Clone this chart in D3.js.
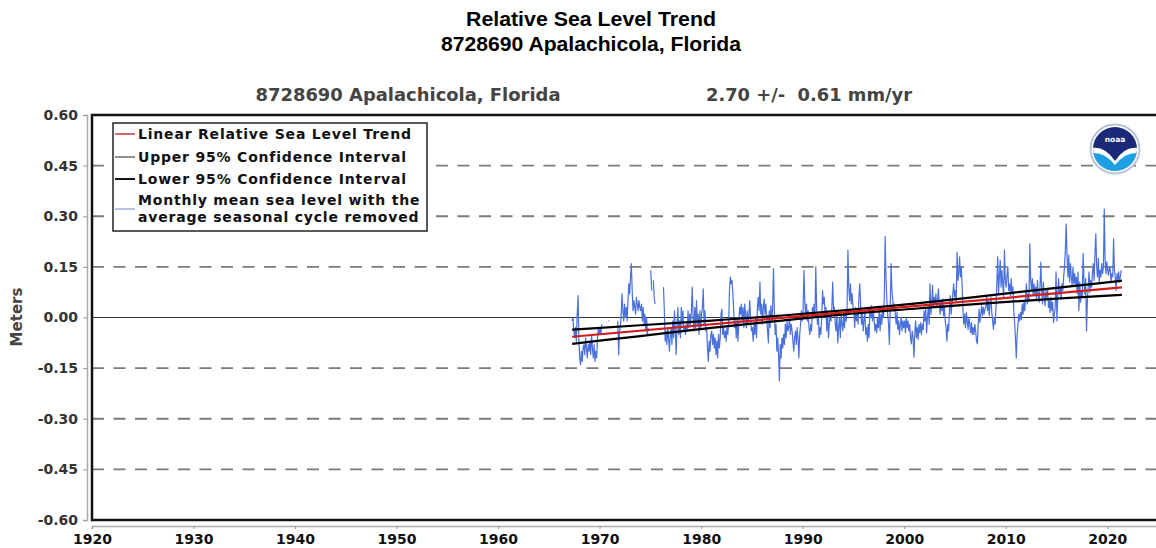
<!DOCTYPE html>
<html><head><meta charset="utf-8">
<script src="https://cdn.jsdelivr.net/npm/d3@7"></script>
<style>body{margin:0;background:#fff}svg{display:block}</style>
</head><body>
<svg id="chart" width="1156" height="548"></svg>
<script>
// ---------- DATA ----------
const titleLines = ["Relative Sea Level Trend", "8728690 Apalachicola, Florida"];
const stationLabel = "8728690 Apalachicola, Florida";
const trendLabel = "2.70 +/-  0.61 mm/yr";
const yLabel = "Meters";
const yTicks = [-0.60, -0.45, -0.30, -0.15, 0.00, 0.15, 0.30, 0.45, 0.60];
const xTicks = [1920, 1930, 1940, 1950, 1960, 1970, 1980, 1990, 2000, 2010, 2020];
const legendItems = ["Linear Relative Sea Level Trend", "Upper 95% Confidence Interval",
  "Lower 95% Confidence Interval", "Monthly mean sea level with the", "average seasonal cycle removed"];

// monthly mean sea level (m), Jan..Dec per year, starting 1967
const dataStartYear = 1967;
const monthlyMSL = [
/*1967*/ null,null,null,-0.01,0.00,-0.04,-0.06,-0.03,-0.07,0.01,0.065,-0.07,
/*1968*/ -0.12,-0.14,-0.10,-0.13,-0.09,-0.08,-0.11,-0.06,-0.09,-0.12,-0.08,-0.10,
/*1969*/ -0.07,-0.11,-0.05,-0.09,-0.12,-0.08,-0.13,-0.10,-0.12,-0.06,-0.03,-0.05,
/*1970*/ -0.03,-0.05,-0.02,null,null,null,null,null,null,null,-0.01,-0.01,
/*1971*/ null,null,null,null,null,null,null,null,null,-0.01,-0.11,-0.04,
/*1972*/ -0.03,0.01,0.07,0.02,-0.01,0.04,0.00,0.03,-0.01,0.05,0.10,0.07,
/*1973*/ 0.12,0.16,0.08,0.02,0.05,0.03,0.01,0.06,0.04,0.02,0.05,0.03,
/*1974*/ 0.02,0.04,-0.01,0.03,-0.02,0.01,-0.04,0.00,-0.05,-0.03,null,null,
/*1975*/ 0.14,0.08,null,0.11,0.06,0.04,null,null,null,null,null,null,
/*1976*/ null,null,null,0.09,0.02,-0.07,-0.04,-0.08,-0.03,-0.06,-0.10,-0.05,
/*1977*/ -0.03,-0.08,-0.01,-0.06,0.02,-0.04,-0.11,-0.02,0.03,-0.05,-0.01,-0.06,
/*1978*/ 0.03,-0.02,0.02,-0.04,-0.03,-0.05,-0.02,-0.04,0.02,-0.03,0.01,-0.02,
/*1979*/ 0.02,0.09,0.00,-0.04,0.03,-0.03,0.05,-0.02,0.01,-0.05,0.02,-0.03,
/*1980*/ 0.01,0.03,0.085,-0.02,0.02,-0.04,-0.03,-0.09,-0.13,-0.07,-0.10,-0.05,
/*1981*/ -0.04,-0.08,-0.05,-0.09,-0.06,-0.11,-0.07,-0.12,-0.05,-0.09,-0.06,0.01,
/*1982*/ 0.025,-0.05,-0.03,-0.06,-0.04,-0.07,-0.03,-0.05,-0.02,0.08,0.12,0.10,
/*1983*/ 0.11,0.07,0.02,-0.03,-0.01,-0.06,0.00,-0.07,-0.02,0.03,0.01,0.04,
/*1984*/ -0.01,0.03,-0.03,0.04,0.01,-0.03,0.02,-0.02,0.01,0.05,-0.01,-0.04,
/*1985*/ -0.03,-0.07,-0.02,-0.05,0.00,-0.06,0.03,0.06,0.02,0.105,0.01,0.04,
/*1986*/ -0.02,0.03,0.055,0.01,0.04,0.00,-0.04,-0.075,0.02,-0.03,0.035,-0.01,
/*1987*/ 0.03,0.145,0.02,-0.05,-0.02,-0.10,-0.06,-0.11,-0.187,-0.08,-0.12,-0.06,
/*1988*/ -0.09,-0.05,-0.08,-0.02,-0.06,-0.01,-0.04,-0.03,0.00,-0.05,-0.02,-0.04,
/*1989*/ -0.07,-0.10,-0.06,-0.04,-0.08,-0.03,-0.06,-0.12,-0.05,-0.02,0.02,-0.01,
/*1990*/ 0.02,0.14,0.05,0.00,0.04,-0.01,0.02,-0.03,-0.05,-0.02,-0.04,0.03,
/*1991*/ 0.01,0.04,0.00,0.15,0.03,-0.02,0.01,-0.06,-0.03,-0.05,0.00,0.08,
/*1992*/ 0.04,0.06,0.01,0.03,-0.04,0.02,-0.06,-0.02,0.01,-0.01,0.03,0.105,
/*1993*/ 0.02,0.03,-0.02,-0.04,0.01,-0.075,-0.03,0.00,-0.06,0.01,-0.02,-0.04,
/*1994*/ 0.01,-0.03,0.02,-0.01,0.03,0.20,0.09,0.05,0.10,0.04,0.07,0.03,
/*1995*/ 0.02,-0.03,0.03,-0.01,0.01,-0.02,0.06,0.10,0.04,-0.02,0.01,-0.04,
/*1996*/ -0.01,0.02,-0.05,-0.03,-0.07,-0.02,-0.06,0.03,0.00,0.035,-0.01,0.02,
/*1997*/ -0.01,-0.04,-0.02,-0.045,0.00,-0.03,0.02,-0.04,0.01,-0.02,0.025,0.00,
/*1998*/ 0.06,0.24,0.12,0.05,0.01,-0.02,-0.08,0.03,0.16,0.08,0.05,0.03,
/*1999*/ 0.04,0.01,-0.02,0.015,-0.035,-0.01,-0.05,-0.02,0.00,-0.04,-0.01,-0.03,
/*2000*/ -0.01,-0.045,0.00,-0.03,-0.01,-0.04,-0.02,-0.06,-0.078,-0.04,-0.06,-0.118,
/*2001*/ -0.05,-0.01,-0.06,-0.03,-0.065,-0.02,-0.045,-0.015,-0.05,-0.02,-0.035,0.02,
/*2002*/ -0.01,0.025,-0.045,0.00,0.03,-0.02,0.10,0.01,0.035,0.095,0.03,0.06,
/*2003*/ 0.04,0.07,0.03,0.05,0.085,0.04,0.01,0.05,0.02,0.055,0.005,0.03,
/*2004*/ -0.01,-0.03,-0.07,-0.02,-0.04,0.02,0.065,0.01,0.04,0.07,0.10,0.06,
/*2005*/ 0.08,0.05,0.194,0.11,0.13,0.18,0.12,0.15,0.09,0.02,-0.02,0.01,
/*2006*/ -0.03,0.015,-0.01,-0.035,0.00,-0.02,-0.045,-0.015,-0.05,-0.03,-0.05,-0.02,
/*2007*/ -0.04,-0.07,-0.078,-0.02,0.025,-0.015,0.01,0.035,0.005,0.03,0.01,0.025,
/*2008*/ 0.03,0.065,0.02,0.05,0.005,0.04,0.06,0.015,-0.01,-0.035,0.00,-0.02,
/*2009*/ 0.03,0.10,0.18,0.07,0.12,0.17,0.09,0.14,0.10,0.06,0.20,0.11,
/*2010*/ 0.09,0.125,0.15,0.08,0.10,0.065,0.115,0.07,0.09,0.02,-0.015,-0.06,
/*2011*/ -0.12,-0.05,-0.02,0.01,-0.01,0.015,-0.005,0.04,0.01,0.045,0.02,0.06,
/*2012*/ 0.10,0.04,0.07,0.05,0.218,0.11,0.08,0.115,0.065,0.10,0.07,0.09,
/*2013*/ 0.05,0.11,0.07,0.045,0.09,0.164,0.08,0.04,0.105,0.06,0.035,0.08,
/*2014*/ 0.06,0.085,0.03,0.05,0.015,0.06,0.02,0.045,-0.015,0.01,0.03,0.135,
/*2015*/ -0.01,0.06,0.115,0.07,0.09,0.055,0.10,0.08,0.12,0.15,0.20,0.277,
/*2016*/ 0.18,0.12,0.185,0.105,0.16,0.12,0.095,0.15,0.10,0.13,0.095,0.12,
/*2017*/ 0.07,0.135,0.02,0.105,0.045,0.08,0.06,0.19,0.11,0.07,0.115,-0.04,
/*2018*/ 0.05,0.09,0.135,0.075,0.11,0.09,0.13,0.16,0.11,0.19,0.248,0.15,
/*2019*/ 0.12,0.175,0.105,0.14,0.12,0.16,0.13,0.15,0.322,0.17,0.13,0.165,
/*2020*/ 0.14,0.125,0.15,0.145,0.105,0.13,0.12,0.233,0.14,0.12,0.08,0.13,
/*2021*/ 0.11,0.135,0.105,0.12,0.14
];

// linear trend (m) at its end points
const trendYears = [1967.29, 2021.44];
const trendValues = [-0.057, 0.089];
// 95% confidence interval curves (m)
const ciYears = [1967.29, 1974, 1981, 1988, 1994.3, 2001, 2008, 2015, 2021.44];
const ciUpper = [-0.036, -0.023, -0.009, 0.006, 0.022, 0.041, 0.064, 0.088, 0.109];
const ciLower = [-0.078, -0.055, -0.031, -0.009, 0.010, 0.026, 0.042, 0.056, 0.067];

// ---------- CHART ----------
const svg = d3.select("#chart");
const W = 1156, H = 548;
const pL = 92, pT = 115, pB = 520, pR = 1158;
const x = d3.scaleLinear().domain([1920, 2025]).range([pL, pR]);
const y = d3.scaleLinear().domain([-0.6, 0.6]).range([pB, pT]);

svg.append("rect").attr("width", W).attr("height", H).attr("fill", "#fff");

// titles
const titleFont = "'Liberation Sans Narrow','Liberation Sans',Arial,sans-serif";
svg.append("text").attr("x", 591).attr("y", 26).attr("text-anchor", "middle")
  .attr("font-family", titleFont).attr("font-weight", "bold").attr("font-size", 21)
  .attr("textLength", 250).attr("lengthAdjust", "spacingAndGlyphs").text(titleLines[0]);
svg.append("text").attr("x", 591).attr("y", 51).attr("text-anchor", "middle")
  .attr("font-family", titleFont).attr("font-weight", "bold").attr("font-size", 21)
  .attr("textLength", 300).attr("lengthAdjust", "spacingAndGlyphs").text(titleLines[1]);

const subFont = "'DejaVu Sans',Verdana,sans-serif";
svg.append("text").attr("x", 408).attr("y", 101).attr("text-anchor", "middle")
  .attr("font-family", subFont).attr("font-weight", "bold").attr("font-size", 17).attr("fill", "#444")
  .attr("textLength", 305).attr("lengthAdjust", "spacingAndGlyphs").text(stationLabel);
svg.append("text").attr("x", 809).attr("y", 101).attr("text-anchor", "middle")
  .attr("font-family", subFont).attr("font-weight", "bold").attr("font-size", 17).attr("fill", "#444")
  .style("white-space", "pre")
  .attr("textLength", 206).attr("lengthAdjust", "spacingAndGlyphs").text(trendLabel);

// y label
svg.append("text").attr("transform", "translate(22,317) rotate(-90)").attr("text-anchor", "middle")
  .attr("font-family", subFont).attr("font-weight", "bold").attr("font-size", 15).attr("fill", "#444")
  .text(yLabel);

// grid lines
const plot = svg.append("g");
plot.selectAll("line.grid").data(yTicks.filter(v => Math.abs(v) > 0.01 && Math.abs(v) < 0.59))
  .join("line").attr("class", "grid")
  .attr("x1", pL).attr("x2", W).attr("y1", d => y(d)).attr("y2", d => y(d))
  .attr("stroke", "#7a7a7a").attr("stroke-width", 1.8).attr("stroke-dasharray", "12,9.5");
plot.append("line").attr("x1", pL).attr("x2", W).attr("y1", y(0)).attr("y2", y(0))
  .attr("stroke", "#333").attr("stroke-width", 1);

// monthly data
const series = monthlyMSL.map((v, i) => ({
  t: dataStartYear + Math.floor(i / 12) + ((i % 12) + 0.5) / 12, v }));
const line = d3.line().defined(d => d.v !== null).x(d => x(d.t)).y(d => y(d.v));
plot.append("path").datum(series).attr("d", line).attr("fill", "none")
  .attr("stroke", "#4a70dc").attr("stroke-width", 1.2).attr("stroke-linejoin", "round");

// CI + trend
const ciLine = d3.line().curve(d3.curveMonotoneX).x(d => x(d[0])).y(d => y(d[1]));
plot.append("path").attr("d", ciLine(ciYears.map((t, i) => [t, ciUpper[i]])))
  .attr("fill", "none").attr("stroke", "#000").attr("stroke-width", 2.2);
plot.append("path").attr("d", ciLine(ciYears.map((t, i) => [t, ciLower[i]])))
  .attr("fill", "none").attr("stroke", "#000").attr("stroke-width", 2.2);
plot.append("path").attr("d", d3.line().x(d => x(d[0])).y(d => y(d[1]))(trendYears.map((t, i) => [t, trendValues[i]])))
  .attr("fill", "none").attr("stroke", "#d41c1c").attr("stroke-width", 2.2);

// plot border
svg.append("rect").attr("x", pL).attr("y", pT).attr("width", pR - pL + 10).attr("height", pB - pT)
  .attr("fill", "none").attr("stroke", "#111").attr("stroke-width", 2.5);

// axes
const tickFont = "'DejaVu Sans',Verdana,sans-serif";
const yAxis = svg.append("g").attr("transform", "translate(87,0)")
  .call(d3.axisLeft(y).tickValues(yTicks).tickSize(4).tickPadding(5).tickFormat(d => d.toFixed(2)));
const xAxis = svg.append("g").attr("transform", "translate(0,526)")
  .call(d3.axisBottom(x).tickValues(xTicks).tickSize(3).tickPadding(5).tickFormat(d3.format("d")));
[yAxis, xAxis].forEach(a => {
  a.select(".domain").attr("stroke", "#aaa").attr("stroke-width", 1.5);
  a.selectAll(".tick line").attr("stroke", "#999");
  a.selectAll("text").attr("font-family", tickFont).attr("font-weight", "bold").attr("font-size", 14);
});
yAxis.selectAll("text").attr("fill", "#333");
xAxis.selectAll("text").attr("fill", "#111");

// legend
const lg = svg.append("g");
lg.append("rect").attr("x", 113).attr("y", 123).attr("width", 314).attr("height", 108)
  .attr("fill", "#fff").attr("stroke", "#222").attr("stroke-width", 1.5);
const rowsY = [134, 157, 179, 200, 217];
const sw = [
  {y: 134, c: "#c0393b", w: 1.5},
  {y: 157, c: "#222", w: 1},
  {y: 179, c: "#111", w: 2},
  {y: 209, c: "#9aaedb", w: 1.5}];
lg.selectAll("line.sw").data(sw).join("line").attr("class", "sw")
  .attr("x1", 115).attr("x2", 135).attr("y1", d => d.y).attr("y2", d => d.y)
  .attr("stroke", d => d.c).attr("stroke-width", d => d.w);
lg.selectAll("text").data(legendItems).join("text")
  .attr("x", 138).attr("y", (d, i) => rowsY[i]).attr("dy", "0.36em")
  .attr("font-family", tickFont).attr("font-weight", "bold").attr("font-size", 14)
  .attr("letter-spacing", 0.8).attr("fill", "#111")
  .text(d => d);

// NOAA logo
const logo = svg.append("g").attr("transform", "translate(1115,149)");
logo.append("clipPath").attr("id", "lc").append("circle").attr("r", 22);
logo.append("circle").attr("r", 24.5).attr("fill", "#fff").attr("stroke", "#b8c4dc").attr("stroke-width", 2);
const inner = logo.append("g").attr("clip-path", "url(#lc)");
inner.append("rect").attr("x", -23).attr("y", -23).attr("width", 46).attr("height", 46).attr("fill", "#1b2a78");
inner.append("path").attr("d", "M-23,-1 Q-10,-3 0,12 Q10,-3 23,-1 L23,23 L-23,23 Z").attr("fill", "#fff");
inner.append("path").attr("d", "M-23,4 Q-10,3 0,16 Q10,3 23,4 L23,23 L-23,23 Z").attr("fill", "#1e9fe3");
logo.append("text").attr("y", -7).attr("text-anchor", "middle").attr("font-family", "DejaVu Sans")
  .attr("font-weight", "bold").attr("font-size", 7.5).attr("fill", "#fff").text("noaa");
</script>
</body></html>
